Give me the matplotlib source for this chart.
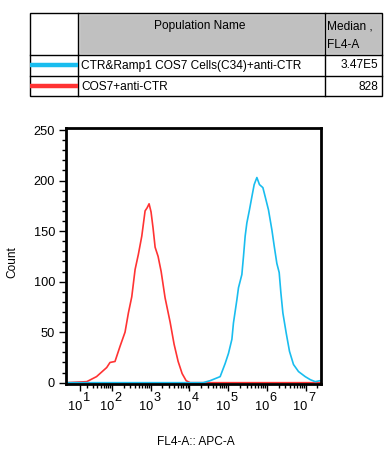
import numpy as np
import matplotlib
matplotlib.use('Agg')
from matplotlib import pyplot as plt
from matplotlib.patches import Rectangle
from matplotlib.ticker import FixedLocator, MultipleLocator, NullFormatter
from matplotlib import transforms

plt.rcParams['font.family'] = ['Liberation Sans', 'DejaVu Sans']

# populations shown in the table
pop_names = ['CTR&Ramp1 COS7 Cells(C34)+anti-CTR', 'COS7+anti-CTR']
pop_medians = ['3.47E5', '828']
pop_colors = ['#19BDEF', '#FF3333']

# histogram of COS7+anti-CTR (FL4-A value, count)
red_x = [-5.3, 18.8, 38, 72, 88, 119, 161, 217, 265, 324, 395, 480, 588, 716, 807,
         908, 1020, 1150, 1300, 1550, 1860, 2350, 3170, 4020, 5110, 6480, 8220,
         10400, 2.5e7]
red_y = [0, 1, 6, 15, 20, 21, 36, 50, 69, 85, 112, 127, 145, 170, 173,
         177, 169, 153, 134, 125, 110, 84, 60, 38, 21, 9, 2,
         0, 0]

# histogram of CTR&Ramp1 COS7 cells
blue_x = [-5.3, 22600, 34300, 62200, 83700, 102000, 125000, 137000, 168000, 185000,
          226000, 249000, 275000, 304000, 355000, 410000, 470000, 552000, 644000,
          789000, 905000, 1.10e6, 1.35e6, 1.55e6, 1.81e6, 2.08e6, 2.30e6, 2.59e6,
          3.16e6, 3.84e6, 4.87e6, 6.56e6, 9.78e6, 1.32e7, 1.77e7, 2.38e7, 2.5e7]
blue_y = [0, 0, 2, 6, 19, 29, 43, 59, 82, 94,
          107, 125, 145, 158, 171, 184, 196, 203, 196,
          193, 184, 171, 151, 135, 118, 109, 89, 69,
          49, 31, 18, 11, 6, 3, 1, 2, 2]

decades = [1, 2, 3, 4, 5, 6, 7]

W = 17.5
def fwd(x):
    return np.arcsinh(np.asarray(x) / W)
def inv(y):
    return W * np.sinh(np.asarray(y))

fig = plt.figure(figsize=(3.9, 4.59), dpi=100)
FS = 8.6

# table drawn in pixel coordinates
tab = fig.add_axes([0, 0, 1, 1])
tab.set_xlim(0, 390)
tab.set_ylim(459, 0)
tab.axis('off')
tab.add_patch(Rectangle((79, 14), 245, 40, facecolor='#C0C0C0', edgecolor='#DCDCDC', lw=1))
tab.add_patch(Rectangle((326, 14), 55, 40, facecolor='#C0C0C0', edgecolor='#DCDCDC', lw=1))
tab.add_patch(Rectangle((30, 13), 351.5, 83, fill=False, edgecolor='black', lw=1))
tab.plot([78.3, 78.3], [13, 96], color='black', lw=1)
tab.plot([325, 325], [13, 96], color='black', lw=1)
tab.plot([30, 381.5], [54.7, 54.7], color='black', lw=1)
tab.plot([30, 381.5], [75.7, 75.7], color='black', lw=1)
tab.text(200, 26.5, 'Population Name', ha='center', va='center', fontsize=FS)
tab.text(327, 26.5, 'Median ,', ha='left', va='center', fontsize=FS)
tab.text(327, 45, 'FL4-A', ha='left', va='center', fontsize=FS)
for i, (nm, md, c) in enumerate(zip(pop_names, pop_medians, pop_colors)):
    yy = 65 + 21 * i
    tab.plot([30, 78], [yy, yy], color=c, lw=3.2, solid_capstyle='butt')
    tab.text(81, yy + 0.5, nm, ha='left', va='center', fontsize=FS)
    tab.text(378, yy + 0.5, md, ha='right', va='center', fontsize=FS)
tab.text(196, 442, 'FL4-A:: APC-A', ha='center', va='center', fontsize=FS)
tab.text(12, 262, 'Count', ha='center', va='center', rotation=90, fontsize=FS)

# histogram axes
ax = fig.add_axes([66 / 390, 1 - 384 / 459, 255 / 390, 256 / 459])
ax.set_xscale('function', functions=(fwd, inv))
ax.plot(red_x, red_y, color=pop_colors[1], lw=1.2)
ax.plot(blue_x, blue_y, color=pop_colors[0], lw=1.2)
ax.set_xlim(-5.3, 2.5e7)
ax.set_ylim(-1.3, 252)

ax.xaxis.set_major_locator(FixedLocator([10.0 ** d for d in decades]))
ax.xaxis.set_major_formatter(NullFormatter())
minor = [k * 10.0 ** d for d in range(1, 8) for k in range(2, 10) if k * 10.0 ** d < 2.5e7]
ax.xaxis.set_minor_locator(FixedLocator(minor))
ax.set_yticks([0, 50, 100, 150, 200, 250])
ax.yaxis.set_minor_locator(MultipleLocator(10))
ax.tick_params(which='major', direction='out', length=5, width=1, labelsize=9.2, pad=3)
ax.tick_params(which='minor', direction='out', length=3, width=1)
for s in ax.spines.values():
    s.set_linewidth(2)

# decade labels: "10" with a full-size raised exponent
blend = transforms.blended_transform_factory(ax.transData, ax.transAxes)
for d in decades:
    t1 = transforms.offset_copy(blend, fig=fig, x=-5, y=-23, units='dots')
    t2 = transforms.offset_copy(blend, fig=fig, x=6, y=-14, units='dots')
    ax.text(10.0 ** d, 0, '10', transform=t1, ha='center', va='center', fontsize=9.2)
    ax.text(10.0 ** d, 0, str(d), transform=t2, ha='center', va='center', fontsize=9.2)

fig.savefig('out.png', dpi=100)
